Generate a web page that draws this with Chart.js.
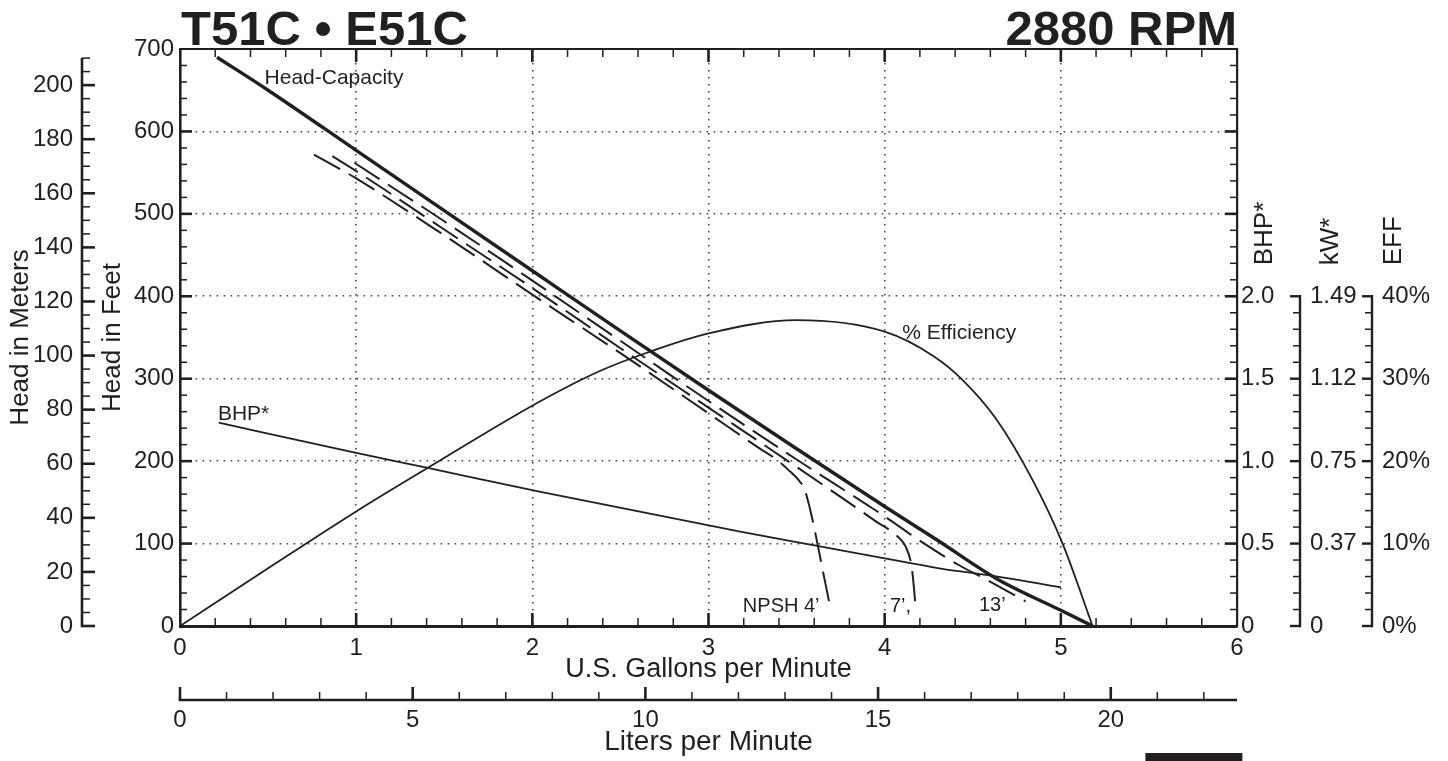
<!DOCTYPE html>
<html>
<head>
<meta charset="utf-8">
<script src="https://cdn.jsdelivr.net/npm/chart.js@4.4.1/dist/chart.umd.min.js"></script>
<style>
  html, body { margin: 0; padding: 0; background: #fff; }
  #wrap { width: 1448px; height: 761px; }
</style>
</head>
<body>
<div id="wrap"><canvas id="pumpChart" width="1448" height="761"></canvas></div>
<script>
// curve readings, flow in US gpm
const gpmHead = [0.21, 0.5, 1, 1.5, 2, 2.5, 3, 3.5, 4, 4.3, 4.63, 5, 5.18];
const ftHead  = [690, 650, 577, 504, 431, 358, 286, 215, 145, 104, 58, 19, 0];

const gpmNpsh13 = [0.99, 1.5, 2, 2.5, 3, 3.5, 4, 4.21, 4.42, 4.58, 4.8];
const ftNpsh13  = [562, 491, 419, 346, 273, 202, 133, 102, 74, 56, 30];

const gpmNpsh7 = [0.865, 1, 1.5, 2, 2.5, 3, 3.5, 3.95, 4.077, 4.12, 4.15, 4.16, 4.175];
const ftNpsh7  = [570, 552, 481, 410, 337, 265, 193, 127, 108, 96, 76, 60, 25];

const gpmNpsh4 = [0.76, 1, 1.5, 2, 2.5, 3, 3.3, 3.386, 3.45, 3.519, 3.547, 3.689];
const ftNpsh4  = [572, 543, 474, 402, 331, 258, 214, 202, 190, 175, 165, 25];

const gpmBhp  = [0.22, 1, 1.4, 2.04, 3.18, 3.61, 4, 4.31, 4.64, 5];
const bhpVals = [1.233, 1.05, 0.96, 0.815, 0.572, 0.487, 0.41, 0.35, 0.30, 0.235];

const gpmEff  = [0, 0.5, 1, 1.4, 2.04, 2.38, 2.67, 3, 3.5, 4, 4.28, 4.44, 4.63, 4.84, 5.01, 5.18];
const effVals = [0, 7, 13.9, 19.1, 27.2, 30.9, 33.3, 35.5, 37.1, 35.7, 32.7, 29.9, 25.2, 17.7, 10, 0];

// axis ticks
const meterTicks = [0, 20, 40, 60, 80, 100, 120, 140, 160, 180, 200];
const literTicks = [0, 5, 10, 15, 20];
const bhpTicks = [0, 0.5, 1, 1.5, 2];
const bhpTickLabels = ["0", "0.5", "1.0", "1.5", "2.0"];
const kwTickLabels = ["0", "0.37", "0.75", "1.12", "1.49"];
const effTicks = [0, 10, 20, 30, 40];
const effTickLabels = ["0%", "10%", "20%", "30%", "40%"];

const gpmMax = 6, ftMax = 700;
const ink = '#231f20';
const fontFam = "'Liberation Sans', Arial, Helvetica, sans-serif";

Chart.defaults.font.family = fontFam;
Chart.defaults.color = ink;

const pts = (xs, ys) => xs.map((x, i) => ({x: x, y: ys[i]}));
const fixTicks = list => (s => { s.ticks = list.map(v => ({value: v})); });

const lineSet = (label, data, width, axis, dash) => ({
  label: label,
  data: data,
  borderColor: ink,
  borderWidth: width,
  borderDash: dash || [],
  pointRadius: 0,
  fill: false,
  cubicInterpolationMode: 'monotone',
  xAxisID: 'x',
  yAxisID: axis
});

const gridColor = max => (c => (c.tick && c.tick.value > 0 && c.tick.value < max) ? '#444' : 'rgba(0,0,0,0)');

const decor = {
  id: 'decor',
  afterDraw(chart) {
    const {ctx, chartArea: a, scales: s} = chart;
    const seg = (x1, y1, x2, y2, w) => {
      ctx.lineWidth = w;
      ctx.beginPath(); ctx.moveTo(x1, y1); ctx.lineTo(x2, y2); ctx.stroke();
    };
    ctx.save();
    ctx.strokeStyle = ink;
    ctx.fillStyle = ink;

    // top of frame
    seg(a.left - 1, a.top, a.right + 1, a.top, 2.2);

    // gpm ticks on bottom and top
    for (let k = 1; k < 30; k++) {
      const px = s.x.getPixelForValue(k / 5), major = k % 5 === 0;
      const len = major ? 13 : 8, w = major ? 2.6 : 1.5;
      seg(px, a.bottom, px, a.bottom - len, w);
      seg(px, a.top, px, a.top + len, w);
    }
    // feet ticks on left and right
    for (let v = 20; v < ftMax; v += 20) {
      const py = s.y.getPixelForValue(v), major = v % 100 === 0;
      const len = major ? 12 : 7, w = major ? 2.6 : 1.5;
      seg(a.left, py, a.left + len, py, w);
      seg(a.right, py, a.right - len, py, w);
    }

    // meters axis
    const mx = s.yM.right - 15;
    seg(mx, s.yM.getPixelForValue(0) + 1.3, mx, s.yM.getPixelForValue(210), 2.6);
    for (let v = 0; v <= 210; v += 5) {
      const py = s.yM.getPixelForValue(v), major = v % 20 === 0;
      seg(mx, py, mx + (major ? 13 : 8), py, major ? 2.6 : 1.5);
    }

    // liters axis
    const ly = s.xL.top + 14;
    seg(s.xL.getPixelForValue(0) - 1.3, ly, s.xL.right, ly, 2.6);
    for (let v = 0; v <= 22; v++) {
      const px = s.xL.getPixelForValue(v), major = v % 5 === 0;
      seg(px, ly, px, ly - (major ? 13 : 8), major ? 2.6 : 1.5);
    }

    // kW and EFF axes
    [[s.ykW, 0.1, 0.5, 2], [s.yEff, 2, 10, 40]].forEach(([sc, step, maj, top]) => {
      const x = sc.left;
      seg(x, sc.getPixelForValue(0) + 1.3, x, sc.getPixelForValue(top) - 1.3, 2.4);
      for (let k = 0; k * step <= top + 1e-6; k++) {
        const v = k * step, py = sc.getPixelForValue(v);
        const major = Math.abs(v / maj - Math.round(v / maj)) < 1e-6;
        seg(x, py, x - (major ? 10 : 7), py, major ? 2.4 : 1.5);
      }
    });

    // titles
    ctx.font = "bold 49px " + fontFam;
    ctx.textBaseline = 'alphabetic';
    ctx.textAlign = 'left';
    ctx.fillText('T51C \u2022 E51C', a.left + 1, 45);
    ctx.textAlign = 'right';
    ctx.fillText('2880 RPM', a.right, 45);

    // rotated titles of the power and efficiency axes
    ctx.font = "26px " + fontFam;
    const titleBase = s.yBHP.getPixelForValue(2) - 31;
    [['BHP*', s.yBHP.left + 28], ['kW*', s.ykW.left + 31], ['EFF', s.yEff.left + 22]].forEach(([t, x]) => {
      ctx.save();
      ctx.translate(x, titleBase);
      ctx.rotate(-Math.PI / 2);
      ctx.textAlign = 'left';
      ctx.textBaseline = 'middle';
      ctx.fillText(t, 0, 0);
      ctx.restore();
    });

    // curve labels
    ctx.textAlign = 'left';
    ctx.textBaseline = 'alphabetic';
    const note = (t, gx, fy) => ctx.fillText(t, s.x.getPixelForValue(gx), s.y.getPixelForValue(fy));
    ctx.font = "21px " + fontFam;
    note('Head-Capacity', 0.48, 657);
    note('BHP*', 0.215, 250);
    note('% Efficiency', 4.1, 348);
    ctx.font = "20px " + fontFam;
    note('NPSH 4\u2019', 3.195, 17);
    note('7\u2019,', 4.03, 17);
    note('13\u2019', 4.535, 18);

    // black bar at the foot
    ctx.fillRect(s.x.getPixelForValue(5.48), chart.height - 8, 97, 8);
    ctx.restore();
  }
};

new Chart("pumpChart", {
  type: 'line',
  data: {
    datasets: [
      lineSet('Head-Capacity', pts(gpmHead, ftHead), 3.4, 'y'),
      lineSet('NPSH 13', pts(gpmNpsh13, ftNpsh13), 2, 'y', [30, 10]),
      lineSet('NPSH 7', pts(gpmNpsh7, ftNpsh7), 2, 'y', [30, 10]),
      lineSet('NPSH 4', pts(gpmNpsh4, ftNpsh4), 2, 'y', [30, 10]),
      lineSet('BHP', pts(gpmBhp, bhpVals), 1.8, 'yBHP'),
      lineSet('Efficiency', pts(gpmEff, effVals), 1.8, 'yEff')
    ]
  },
  options: {
    responsive: false,
    devicePixelRatio: 1,
    animation: false,
    layout: { padding: { top: 49, left: 0, right: 0, bottom: 0 } },
    plugins: { legend: { display: false }, tooltip: { enabled: false } },
    scales: {
      x: {
        type: 'linear', position: 'bottom', weight: 0,
        min: 0, max: gpmMax,
        ticks: { stepSize: 1, padding: 8, font: { size: 24 }, maxRotation: 0, autoSkip: false },
        grid: { drawTicks: false, lineWidth: 1.6, color: gridColor(gpmMax) },
        border: { display: true, width: 3, color: ink, dash: [1.6, 5.4] },
        title: { display: true, text: 'U.S. Gallons per Minute', font: { size: 27 }, padding: { top: 0, bottom: 0 } },
        afterFit: s => { s.height = 60; }
      },
      xL: {
        type: 'linear', position: 'bottom', weight: 1,
        min: 0, max: gpmMax * 3.78541,
        afterBuildTicks: fixTicks(literTicks),
        ticks: { padding: 19.6, font: { size: 24 }, maxRotation: 0, autoSkip: false },
        grid: { display: false, drawTicks: false },
        border: { display: false },
        title: { display: true, text: 'Liters per Minute', font: { size: 28 }, padding: { top: 0, bottom: 2 } },
        afterFit: s => { s.height = 75; }
      },
      y: {
        type: 'linear', position: 'left', weight: 0,
        min: 0, max: ftMax,
        ticks: { stepSize: 100, padding: 6, font: { size: 24 }, autoSkip: false },
        grid: { drawTicks: false, lineWidth: 1.6, color: gridColor(ftMax) },
        border: { display: true, width: 2.6, color: ink, dash: [1.6, 5.4] },
        title: { display: true, text: 'Head in Feet', font: { size: 26 }, padding: { top: 0, bottom: 0 } },
        afterFit: s => { s.width = 83; }
      },
      yM: {
        type: 'linear', position: 'left', weight: 1,
        min: 0, max: ftMax * 0.3048,
        afterBuildTicks: fixTicks(meterTicks),
        ticks: { padding: 24, font: { size: 24 }, autoSkip: false },
        grid: { display: false, drawTicks: false },
        border: { display: false },
        title: { display: true, text: 'Head in Meters', font: { size: 26 }, padding: { top: 5, bottom: 0 } },
        afterFit: s => { s.width = 97; }
      },
      yBHP: {
        type: 'linear', position: 'right', weight: 0,
        min: 0, max: ftMax / 200,
        afterBuildTicks: fixTicks(bhpTicks),
        ticks: { padding: 4, font: { size: 24 }, autoSkip: false, callback: (v, i) => bhpTickLabels[i] },
        grid: { display: false, drawTicks: false },
        border: { display: true, width: 2.2, color: ink },
        afterFit: s => { s.width = 63; }
      },
      ykW: {
        type: 'linear', position: 'right', weight: 1,
        min: 0, max: ftMax / 200,
        afterBuildTicks: fixTicks(bhpTicks),
        ticks: { padding: 10, font: { size: 24 }, autoSkip: false, callback: (v, i) => kwTickLabels[i] },
        grid: { display: false, drawTicks: false },
        border: { display: false },
        afterFit: s => { s.width = 72; }
      },
      yEff: {
        type: 'linear', position: 'right', weight: 2,
        min: 0, max: ftMax / 10,
        afterBuildTicks: fixTicks(effTicks),
        ticks: { padding: 10, font: { size: 24 }, autoSkip: false, callback: (v, i) => effTickLabels[i] },
        grid: { display: false, drawTicks: false },
        border: { display: false },
        afterFit: s => { s.width = 76; }
      }
    }
  },
  plugins: [decor]
});
</script>
</body>
</html>
